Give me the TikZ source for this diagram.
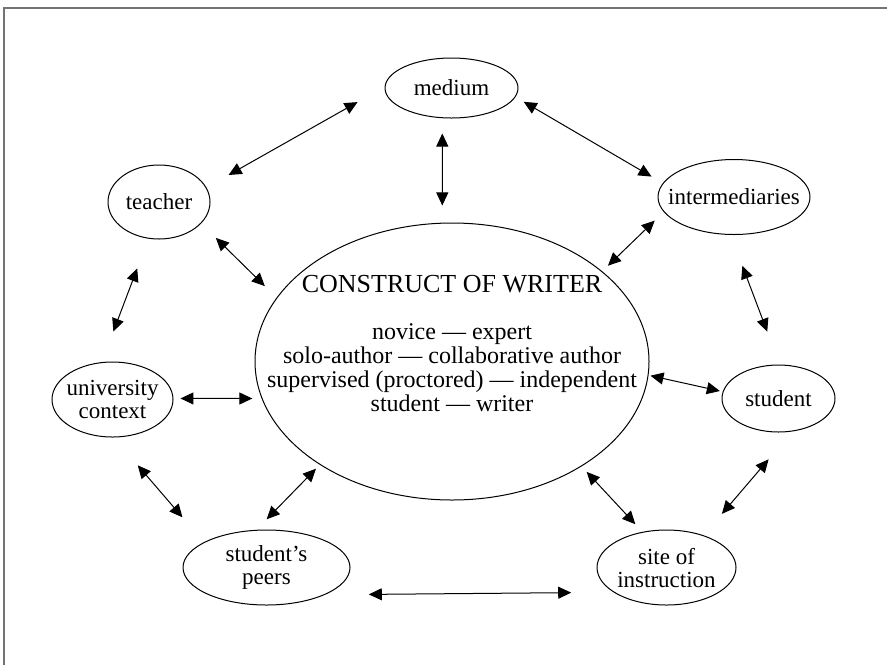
\documentclass[tikz,border=0pt]{standalone}
\usepackage{fontspec}
\setmainfont{Liberation Serif}
\usetikzlibrary{shapes.geometric, arrows.meta}

\tikzset{
  bubble/.style={ellipse, draw, line width=0.5pt, inner sep=0pt},
  link/.style={{Triangle[length=6.5pt,width=6pt]}-{Triangle[length=6.5pt,width=6pt]}, line width=0.5pt},
  frame/.style={draw=black!55, line width=1pt},
  every label/.style={font=\fontsize{11.5}{11.5}\selectfont, align=center},
}

\begin{document}
\begin{tikzpicture}[x=0.5pt, y=-0.5pt]
        \useasboundingbox (0,0) rectangle (887,665);

        % Frame (top and left only)
        \draw[frame] (3.5,665) -- (3.5,7.5) -- (887,7.5);

        % Construct of writer
        \node[bubble, minimum width=197pt, minimum height=138.5pt] (writer) at (452,361.5) {};
        \node[font=\fontsize{13}{13}\selectfont, anchor=base] (title) at (452,292) {CONSTRUCT OF WRITER};
        \node[font=\fontsize{12}{12}\selectfont, align=center] (poles) at (452,368)
            {novice --- expert\\ solo-author --- collaborative author\\ supervised (proctored) --- independent\\ student --- writer};

        % Surrounding influences
        \node[bubble, minimum width=66.5pt, minimum height=30pt, label=center:medium] (medium) at (451.5,88) {};
        \node[bubble, minimum width=51pt, minimum height=37pt, label=center:teacher] (teacher) at (159,202) {};
        \node[bubble, minimum width=76pt, minimum height=37.5pt, label=center:intermediaries] (inter) at (734,197) {};
        \node[bubble, minimum width=60.5pt, minimum height=37.5pt, label={center:university\\context}] (univ) at (112.5,399.5) {};
        \node[bubble, minimum width=56.5pt, minimum height=33.5pt, label=center:student] (student) at (778.5,398.5) {};
        \node[bubble, minimum width=83.5pt, minimum height=37.5pt, label={center:student’s\\peers}] (peers) at (266.5,567.5) {};
        \node[bubble, minimum width=69.5pt, minimum height=37.5pt, label={center:site of\\instruction}] (site) at (666.5,567.5) {};

        % Two-way links
        \draw[link, shorten <=12.7pt, shorten >=15.5pt] (teacher.17) -- (medium.179);
        \draw[link, shorten <=7.65pt, shorten >=8.6pt] (medium.-107.7) -- (writer.94.1);
        \draw[link, shorten <=4.75pt, shorten >=6.5pt] (medium.-8.4) -- (inter.169.2);
        \draw[link, shorten <=10.25pt, shorten >=8.25pt] (teacher.-27.4) -- (writer.160);
        \draw[link, shorten <=6.2pt, shorten >=4pt] (inter.-168.4) -- (writer.31.6);
        \draw[link, shorten <=15.9pt, shorten >=16.35pt] (teacher.-106.6) -- (univ.106.6);
        \draw[link, shorten <=16.5pt, shorten >=17.6pt] (inter.-95.6) -- (student.88.6);
        \draw[link, shorten <=3.5pt, shorten >=4.65pt] (univ.1) -- (writer.191);
        \draw[link, shorten <=1pt, shorten >=1.45pt] (writer.-4.6) -- (student.173.8);
        \draw[link, shorten <=18.35pt, shorten >=16.4pt] (univ.-88.8) -- (peers.158.8);
        \draw[link, shorten <=2.75pt, shorten >=7.35pt] (writer.218.2) -- (peers.105);
        \draw[link, shorten <=3.75pt, shorten >=5.2pt] (writer.-39.8) -- (site.124.4);
        \draw[link, shorten <=18.35pt, shorten >=14.1pt] (student.-67.7) -- (site.41.5);
        \draw[link, shorten <=21.9pt, shorten >=21.1pt] (peers.-25.8) -- (site.205.8);

    \end{tikzpicture}
\end{document}
